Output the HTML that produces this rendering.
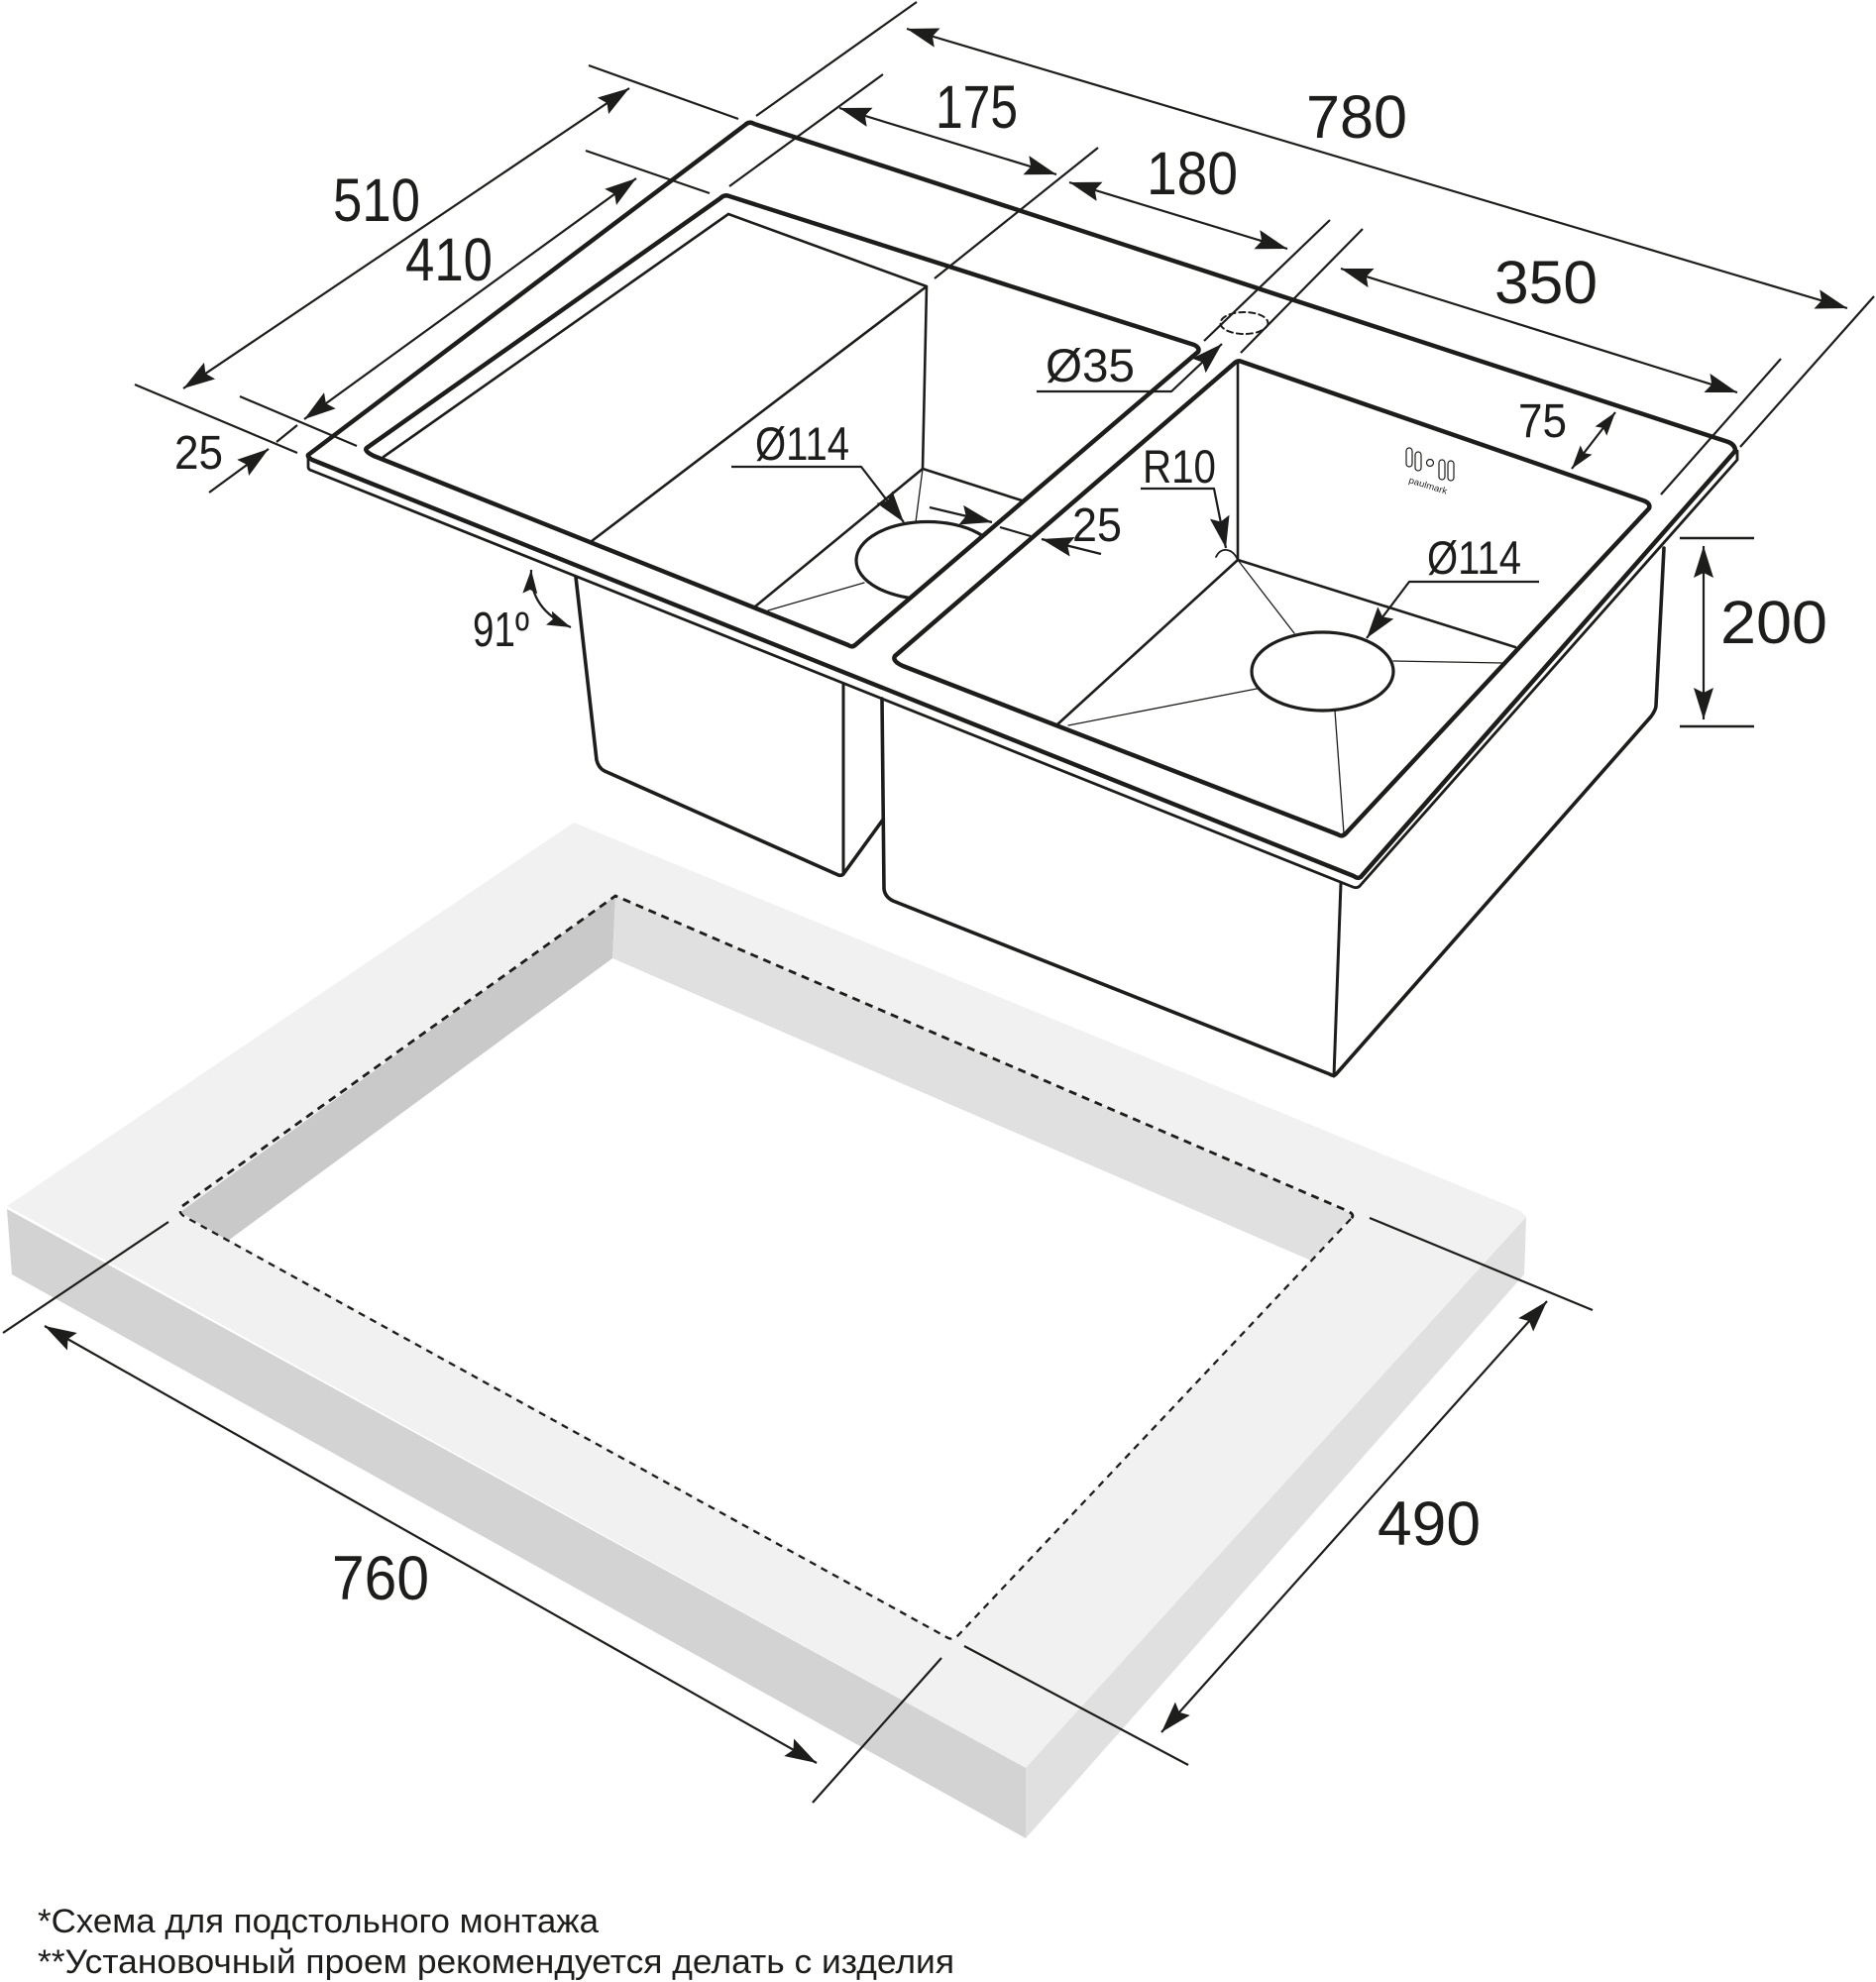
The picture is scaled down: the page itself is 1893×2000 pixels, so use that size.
<!DOCTYPE html>
<html><head><meta charset="utf-8">
<style>
html,body{margin:0;padding:0;background:#fff}
svg{display:block}
text{font-family:"Liberation Sans",sans-serif;fill:#1d1d1b}
</style></head>
<body>
<svg width="1893" height="2000" viewBox="0 0 1893 2000" xmlns="http://www.w3.org/2000/svg">
<defs>
<marker id="a" markerUnits="userSpaceOnUse" markerWidth="34" markerHeight="22" refX="32" refY="10" orient="auto-start-reverse"><path d="M0,0 L32,10 L0,20 L5,10 Z" fill="#1d1d1b"/></marker>
<marker id="s" markerUnits="userSpaceOnUse" markerWidth="26" markerHeight="16" refX="24" refY="7.5" orient="auto-start-reverse"><path d="M0,0 L24,7.5 L0,15 L4,7.5 Z" fill="#1d1d1b"/></marker>
<clipPath id="c1"><path d="M731,197 L1209,353 L860,653 L370,455 Z"/></clipPath>
</defs>

<!-- countertop -->
<polygon points="579,830 1535,1222 1540,1228 1035,1784 7,1217" fill="#f1f1f1"/>
<polygon points="7,1220 12,1286 1035,1855 1035,1784" fill="#d3d3d3"/>
<polygon points="1035,1784 1035,1855 1538,1286 1540,1228" fill="#e0e0e0"/>
<polygon points="621,904 1365,1225 963,1654 182,1223" fill="#fff"/>
<polygon points="621,904 618,967 230,1252 182,1223" fill="#c9c9c9"/>
<polygon points="621,904 618,967 1323,1272 1365,1225" fill="#e0e0e0"/>
<g fill="none" stroke="#1d1d1b">
<path d="M184,1217 L621,904 L1360,1222 Q1368,1226 1363,1230" stroke-width="2.8" stroke-dasharray="8 6"/>
<path d="M1363,1230 L967,1650 Q961,1656 955,1652 L187,1228 Q178,1223 184,1217" stroke-width="2.3" stroke-dasharray="7 6"/>
</g>

<g fill="none" stroke="#1d1d1b" stroke-linejoin="round" stroke-linecap="round">
<!-- bowl sides -->
<path stroke-width="3.6" d="M581,582 L602,767 Q604,775 610,778 L846,883 Q849,884 851,882 L891,827"/>
<path stroke-width="3" d="M851,690 L851,882"/>
<path stroke-width="3.6" d="M890,705 L892,897 Q893,905 901,909 L1342,1084 Q1346,1087 1349,1083 L1666,723 Q1671,716 1671,712 L1679,553"/>
<path stroke-width="3" d="M1353,891 L1346,1086"/>

<!-- rim -->
<path stroke-width="4.5" d="M311,459 L752,126 Q756,122 761,125 L1744,446 Q1751,449 1751,455 L1373,885 Q1370,887 1366,884 L315,464 Q310,461 311,459 Z"/>
<path stroke-width="2.8" d="M311,460 L311,471 Q311,474 315,475 L1365,895 Q1370,897 1373,893 L1753,464 L1753,455"/>

<!-- bowl 1 -->
<path stroke-width="4.5" d="M727,200 Q731,196 736,198 L1205,348 Q1211,351 1209,355 L864,650 Q860,654 856,651 L377,460 Q367,455 370,452 Z"/>
<path stroke-width="2.6" d="M735,216 L935,289 L597,546 M735,216 L387,461 M935,289 L931,473 L762,612 M931,473 L1031,505"/>
<path stroke-width="1.3" d="M931,473 L924,527 M775,616 L872,588"/>
<ellipse cx="936" cy="565.5" rx="72" ry="39" stroke-width="3.2" clip-path="url(#c1)"/>

<!-- bowl 2 -->
<path stroke-width="4.5" d="M1245,367 Q1249,363 1253,365 L1658,505 Q1666,508 1664,513 L1358,841 Q1354,845 1350,842 L911,672 Q900,667 903,662 Z"/>
<path stroke-width="2.6" d="M1249,366 L1249,565 L1067,731 M1249,565 L1529,653"/>
<path stroke-width="1.3" d="M1249,565 L1306,639 M1406,667 L1516,669 M1268,695 L1078,732 M1347,717 L1356,841"/>
<ellipse cx="1334.5" cy="677.5" rx="71.5" ry="39.5" stroke-width="3.2"/>

<!-- faucet hole -->
<ellipse cx="1255.5" cy="326" rx="24" ry="11" stroke-width="2" stroke-dasharray="6 4"/>

<!-- logo -->
<g stroke-width="1.2">
<rect x="1419" y="452" width="6" height="19" rx="3"/>
<rect x="1428" y="456" width="6" height="19" rx="3"/>
<circle cx="1443" cy="467" r="3.5"/>
<rect x="1452" y="464" width="6" height="20" rx="3"/>
<rect x="1461" y="465" width="6" height="20" rx="3"/>
</g>

<!-- extension lines -->
<g stroke-width="2.2" stroke-linecap="butt">
<path d="M594,66 L745,120 M136,388 L300,457 M591,152 L716,195 M242,400 L360,450 M925,2 L763,117 M891,75 L736,188 M300,429 L279,446"/>
<path d="M1108,149 L943,281 M1215,344 L1342,222 M1252,356 L1375,231 M1891,299 L1756,451 M1797,362 L1676,499"/>
<path d="M1009,532 L1040,541"/>
<path d="M170,1233 L3,1345 M950,1673 L820,1819 M1382,1229 L1607,1322 M973,1661 L1199,1781"/>
<path stroke-width="2.6" d="M1695,543 L1770,543 M1695,733 L1770,733"/>
</g>

<!-- dimension lines -->
<g stroke-width="2.2" stroke-linecap="butt">
<path d="M635,89 L185,392" marker-start="url(#a)" marker-end="url(#a)"/>
<path d="M642,180 L307,423" marker-start="url(#a)" marker-end="url(#a)"/>
<path d="M915,29 L1864,311" marker-start="url(#a)" marker-end="url(#a)"/>
<path d="M847,109 L1066,176" marker-start="url(#a)" marker-end="url(#a)"/>
<path d="M1079,184 L1299,251" marker-start="url(#a)" marker-end="url(#a)"/>
<path d="M1353,271 L1753,396" marker-start="url(#a)" marker-end="url(#a)"/>
<path d="M1719,551 L1719,726" marker-start="url(#a)" marker-end="url(#a)"/>
<path d="M45,1338 L824,1779" marker-start="url(#a)" marker-end="url(#a)"/>
<path d="M1561,1313 L1172,1748" marker-start="url(#a)" marker-end="url(#a)"/>
<path d="M1630,416 L1586,473" marker-start="url(#s)" marker-end="url(#s)"/>
<path d="M211,497 L271,453" marker-end="url(#a)"/>
<path d="M938,512 L1001,527" marker-end="url(#a)"/>
<path d="M1111,559 L1051,544" marker-end="url(#a)"/>
<path d="M738,471 L869,471 L912,527" marker-end="url(#a)"/>
<path d="M1046,395 L1182,395 L1233,347" marker-end="url(#a)"/>
<path d="M1151,493 L1225,493 L1237,553" marker-end="url(#a)"/>
<path d="M1553,587 L1422,587 L1379,644" marker-end="url(#a)"/>
<path d="M536,575 Q534,615 576,633" marker-start="url(#s)" marker-end="url(#s)"/>
</g>
<path d="M1227,562 Q1231,554 1238,555 Q1245,556 1249,565" stroke-width="1.8"/>
</g>

<!-- labels -->
<g>
<text x="336" y="223" font-size="61" textLength="88" lengthAdjust="spacingAndGlyphs">510</text>
<text x="409" y="283" font-size="61" textLength="88" lengthAdjust="spacingAndGlyphs">410</text>
<text x="176" y="473" font-size="48" textLength="49" lengthAdjust="spacingAndGlyphs">25</text>
<text x="944" y="129" font-size="61" textLength="83" lengthAdjust="spacingAndGlyphs">175</text>
<text x="1157" y="196" font-size="61" textLength="92" lengthAdjust="spacingAndGlyphs">180</text>
<text x="1318" y="139" font-size="61" textLength="102" lengthAdjust="spacingAndGlyphs">780</text>
<text x="1508" y="306" font-size="61" textLength="104" lengthAdjust="spacingAndGlyphs">350</text>
<text x="1736" y="649" font-size="61" textLength="108" lengthAdjust="spacingAndGlyphs">200</text>
<text x="1055" y="385" font-size="47" textLength="90" lengthAdjust="spacingAndGlyphs">Ø35</text>
<text x="762" y="464" font-size="47" textLength="95" lengthAdjust="spacingAndGlyphs">Ø114</text>
<text x="1440" y="579" font-size="47" textLength="95" lengthAdjust="spacingAndGlyphs">Ø114</text>
<text x="1532" y="441" font-size="48" textLength="49" lengthAdjust="spacingAndGlyphs">75</text>
<text x="1153" y="487" font-size="47" textLength="74" lengthAdjust="spacingAndGlyphs">R10</text>
<text x="1082" y="546" font-size="48" textLength="50" lengthAdjust="spacingAndGlyphs">25</text>
<text x="477" y="652" font-size="49" textLength="57" lengthAdjust="spacingAndGlyphs">91º</text>
<text x="335" y="1614" font-size="63" textLength="98" lengthAdjust="spacingAndGlyphs">760</text>
<text x="1390" y="1559" font-size="63" textLength="104" lengthAdjust="spacingAndGlyphs">490</text>
<text x="1421" y="487" font-size="9" transform="rotate(17 1421 487)" textLength="40" lengthAdjust="spacingAndGlyphs">paulmark</text>
<text x="38" y="1950" font-size="34" textLength="566" lengthAdjust="spacingAndGlyphs">*Схема для подстольного монтажа</text>
<text x="38" y="1991" font-size="34" textLength="925" lengthAdjust="spacingAndGlyphs">**Установочный проем рекомендуется делать с изделия</text>
</g>
</svg>
</body></html>
